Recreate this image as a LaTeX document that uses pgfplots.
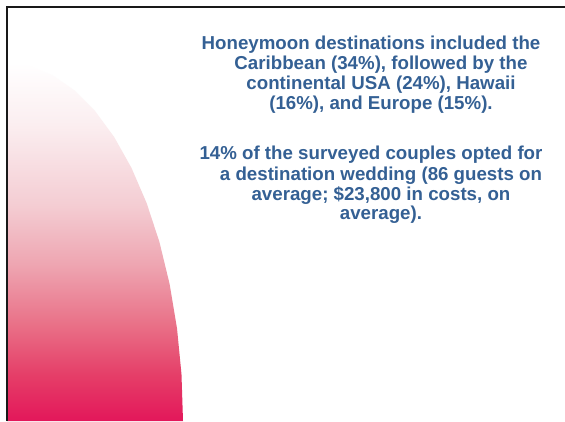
\documentclass[border=0pt]{standalone}
\usepackage{fontspec}
\setmainfont{Liberation Sans}
\usepackage{pgfplots}
\pgfplotsset{compat=1.18}

\definecolor{txtblue}{RGB}{52,96,148}
\definecolor{crim}{RGB}{227,23,90}
% stops: 25bp = bottom of the shape, 75bp = top
\pgfdeclareverticalshading{pinkfade}{100bp}{%
  color(0bp)=(crim);
  color(25bp)=(crim);
  color(31.4bp)=(rgb,255:red,229;green,62;blue,104);
  color(38.4bp)=(rgb,255:red,233;green,112;blue,135);
  color(46.8bp)=(rgb,255:red,238;green,165;blue,177);
  color(55.2bp)=(rgb,255:red,244;green,205;blue,211);
  color(66.4bp)=(rgb,255:red,251;green,238;blue,240);
  color(75bp)=(white);
  color(100bp)=(white)}

\begin{document}
\begin{tikzpicture}
\begin{axis}[
    width=565pt, height=421pt, scale only axis,
    xmin=0, xmax=565, ymin=0, ymax=421,
    axis lines=none, ticks=none,
    clip=true]

  % page background
  \addplot[fill=white, draw=none] coordinates {(0,0) (565,0) (565,421) (0,421)} \closedcycle;

  % quarter ellipse, white at the top to crimson at the bottom
  \addplot[draw=none, shading=pinkfade] coordinates {
    (7,0) (183,0) (181.49,46.73) (177.00,92.66) (169.60,137.00)
    (159.42,179.00) (146.63,217.94) (131.45,253.14) (114.14,284.02)
    (95.00,310.04) (74.35,330.75) (52.55,345.80) (29.97,354.94)
    (7,358) (7,0)
  };

  % slide frame, left and top
  \addplot[black!90, line width=2pt] coordinates {(6.5,0) (6.5,414) (565,414)};

  \begin{scope}[every node/.style={anchor=base, text=txtblue,
      font=\fontsize{18.7}{20}\selectfont\bfseries, inner sep=0pt}]
    \node at (axis cs:371,371.7) {Honeymoon destinations included the};
    \node at (axis cs:381,351.7) {Caribbean (34\%), followed by the};
    \node at (axis cs:381,331.3) {continental USA (24\%), Hawaii};
    \node at (axis cs:381,311.3) {(16\%), and Europe (15\%).};

    \node at (axis cs:371,261) {14\% of the surveyed couples opted for};
    \node at (axis cs:381,240.5) {a destination wedding (86 guests on};
    \node at (axis cs:381,220.5) {average; \$23,800 in costs, on};
    \node at (axis cs:381,201) {average).};
  \end{scope}
\end{axis}
\end{tikzpicture}
\end{document}
